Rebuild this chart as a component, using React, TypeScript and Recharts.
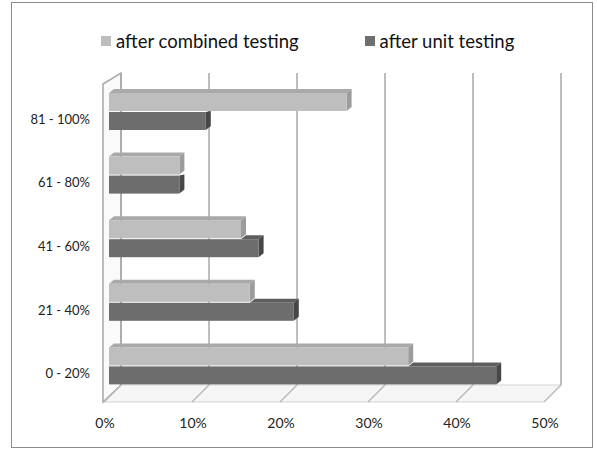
import React from 'react';
import { BarChart, Bar, XAxis, YAxis, CartesianGrid } from 'recharts';

const categories = ['81 - 100%', '61 - 80%', '41 - 60%', '21 - 40%', '0 - 20%'];
const combinedTesting = [0.27, 0.08, 0.15, 0.16, 0.34];
const unitTesting = [0.11, 0.08, 0.17, 0.21, 0.44];
const xTicks = [0, 0.1, 0.2, 0.3, 0.4, 0.5];
const seriesNames = ['after combined testing', 'after unit testing'];
const seriesKeys = ['combined', 'unit'];

const data = categories.map((c, i) => ({
  category: c,
  combined: combinedTesting[i],
  unit: unitTesting[i],
}));

const FONT = 'Lato, "Open Sans", sans-serif';
const DX = 5;
const DY = 4;

const LIGHT = { front: '#bebebe', top: '#a9a9a9', side: '#9c9c9c', legend: '#bdbdbd' };
const DARK = { front: '#6d6d6d', top: '#5e5e5e', side: '#474747', legend: '#6e6e6e' };
const palettes = [LIGHT, DARK];

const CombinedShape = (props: any) => {
  const { x, y, width, height } = props;
  if (!width || width <= 0) return null;
  const p = LIGHT;
  return (
    <g>
      <polygon
        points={`${x},${y} ${x + DX},${y - DY} ${x + width + DX},${y - DY} ${x + width},${y}`}
        fill={p.top}
      />
      <polygon
        points={`${x + width},${y} ${x + width + DX},${y - DY} ${x + width + DX},${y + height - DY} ${x + width},${y + height}`}
        fill={p.side}
      />
      <rect x={x} y={y} width={width} height={height} fill={p.front} />
    </g>
  );
};

const UnitShape = (props: any) => {
  const { x, y, width, height, payload } = props;
  if (!width || width <= 0) return null;
  const p = DARK;
  const ratio = payload && payload.unit > 0 ? payload.combined / payload.unit : 0;
  const covered = ratio >= 1;
  const x0 = x + width * Math.min(1, ratio);
  return (
    <g>
      {!covered && (
        <polygon
          points={`${x0},${y} ${x0 + DX},${y - DY} ${x + width + DX},${y - DY} ${x + width},${y}`}
          fill={p.top}
        />
      )}
      <polygon
        points={`${x + width},${y} ${x + width + DX},${covered ? y - 1 : y - DY} ${x + width + DX},${y + height - DY} ${x + width},${y + height}`}
        fill={p.side}
      />
      <rect x={x} y={y} width={width} height={height} fill={p.front} />
    </g>
  );
};

const BACK_DX = 12;
const BACK_TOP = -7;
const BACK_BOTTOM = -13;
const FRONT_DX = -6;
const FRONT_BOTTOM = 4;

const GridLine = (props: any) => {
  const { x1, y1, y2, index, x, width } = props;
  const top = Math.min(y1, y2);
  const bottom = Math.max(y1, y2);
  const bx = x1 + BACK_DX;
  return (
    <g key={`grid-${index}`}>
      {index === 0 && (
        <g>
          <polygon
            points={`${x + BACK_DX},${bottom + BACK_BOTTOM} ${x + width + BACK_DX},${bottom + BACK_BOTTOM} ${x + width + FRONT_DX + 1},${bottom + FRONT_BOTTOM} ${x + FRONT_DX},${bottom + FRONT_BOTTOM}`}
            fill="#f6f6f6"
            stroke="#d4d4d4"
            strokeWidth={1}
          />
          <polygon
            points={`${x + FRONT_DX},${top + FRONT_BOTTOM} ${x + BACK_DX},${top + BACK_TOP} ${x + BACK_DX},${bottom + BACK_BOTTOM} ${x + FRONT_DX},${bottom + FRONT_BOTTOM}`}
            fill="#fafafa"
            stroke="#a8a8a8"
            strokeWidth={1.5}
          />
        </g>
      )}
      <line x1={bx} y1={top + BACK_TOP} x2={bx} y2={bottom + BACK_BOTTOM} stroke="#a8a8a8" strokeWidth={1.5} />
      <line x1={bx} y1={bottom + BACK_BOTTOM} x2={x1 + FRONT_DX + 1} y2={bottom + FRONT_BOTTOM} stroke="#b8b8b8" strokeWidth={1.5} />
    </g>
  );
};

const XTick = (props: any) => {
  const { x, y, payload } = props;
  return (
    <text x={x - 4} y={y} dy={30} textAnchor="middle" fontFamily={FONT} fontSize={14} fill="#222">
      {`${Math.round(payload.value * 100)}%`}
    </text>
  );
};

const YTick = (props: any) => {
  const { x, y, payload } = props;
  return (
    <text x={x - 19} y={y} dy={12} textAnchor="end" fontFamily={FONT} fontSize={13} fill="#222">
      {payload.value}
    </text>
  );
};

export default function App() {
  return (
    <div style={{ position: 'fixed', left: 0, top: 0, width: 597, height: 450, background: '#fff' }}>
      <BarChart
        width={597}
        height={450}
        data={data}
        layout="vertical"
        margin={{ top: 80, right: 48, bottom: 22, left: 0 }}
        barSize={18}
        barGap={1}
      >
        <CartesianGrid horizontal={false} vertical={GridLine as any} />
        <XAxis
          type="number"
          domain={[0, 0.5]}
          ticks={xTicks}
          axisLine={false}
          tickLine={false}
          tickSize={0}
          tickMargin={0}
          height={30}
          tick={XTick}
          interval={0}
        />
        <YAxis
          type="category"
          dataKey="category"
          width={109}
          axisLine={false}
          tickLine={false}
          tickSize={0}
          tickMargin={0}
          tick={YTick}
          interval={0}
        />
        <Bar dataKey="combined" name={seriesNames[0]} isAnimationActive={false} shape={CombinedShape} />
        <Bar dataKey="unit" name={seriesNames[1]} isAnimationActive={false} shape={UnitShape} />
      </BarChart>
      <div
        style={{
          position: 'absolute',
          left: 101,
          top: 30,
          display: 'flex',
          alignItems: 'center',
          fontFamily: FONT,
          fontSize: 18.5,
          color: '#111',
          whiteSpace: 'nowrap',
        }}
      >
        {seriesKeys.map((k, i) => (
          <div key={k} style={{ display: 'flex', alignItems: 'center', marginRight: i === 0 ? 66 : 0 }}>
            <span style={{ display: 'inline-block', width: 10, height: 10, background: palettes[i].legend, marginRight: 5 }} />
            <span>{seriesNames[i]}</span>
          </div>
        ))}
      </div>
      <div
        style={{
          position: 'absolute',
          left: 11,
          top: 2,
          width: 582,
          height: 446,
          border: '1.5px solid #8c8c8c',
          boxSizing: 'border-box',
          pointerEvents: 'none',
        }}
      />
    </div>
  );
}
